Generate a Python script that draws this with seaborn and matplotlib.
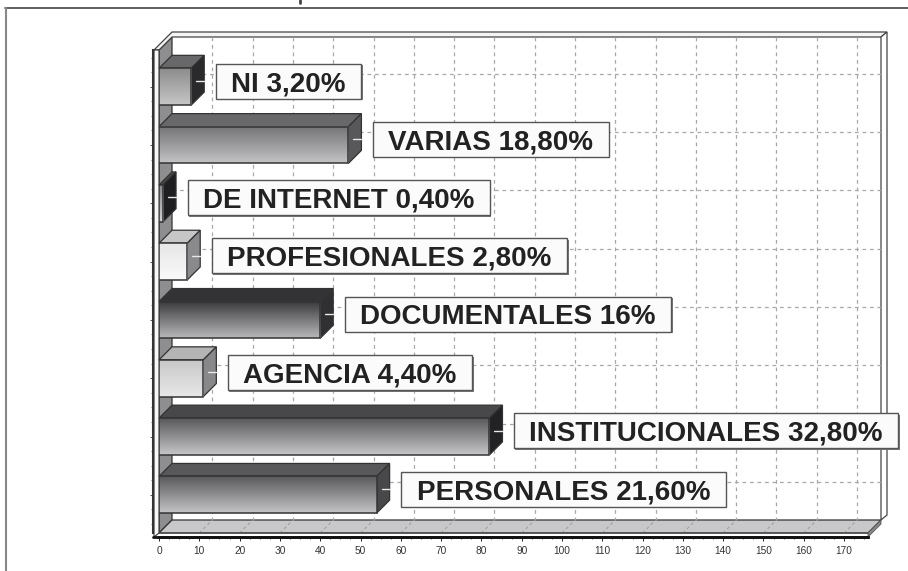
import numpy as np
import pandas as pd
import matplotlib
matplotlib.use('Agg')
import matplotlib.pyplot as plt
import seaborn as sns
from matplotlib.colors import LinearSegmentedColormap
from matplotlib.lines import Line2D
from matplotlib.patches import Polygon
from matplotlib.ticker import MultipleLocator
from matplotlib.transforms import IdentityTransform

# datos (de arriba a abajo)
categorias = ['NI', 'VARIAS', 'DE INTERNET', 'PROFESIONALES', 'DOCUMENTALES',
              'AGENCIA', 'INSTITUCIONALES', 'PERSONALES']
valores = [8, 47, 1, 7, 40, 11, 82, 54]
porcentajes = ['3,20%', '18,80%', '0,40%', '2,80%', '16%', '4,40%', '32,80%', '21,60%']
ticks_x = list(range(0, 171, 10))

# colores de cada barra: degradado arriba, degradado abajo, cara superior, cara lateral
grad_arriba = ['#8c8c8c', '#747476', '#8a8a8a', '#e6e6e6', '#3a3a3c', '#c8c8c8', '#59595b', '#59595b']
grad_abajo = ['#c6c6c6', '#c2c2c4', '#d0d0d0', '#fafafa', '#b8b8ba', '#e8e8e8', '#c6c6c8', '#c4c4c6']
cara_sup = ['#68686a', '#68686a', '#4a4a4c', '#c6c6c6', '#333335', '#b4b4b4', '#48484a', '#58585a']
cara_lat = ['#2a2a2c', '#58585a', '#1f1f21', '#8a8a8c', '#303032', '#88888a', '#222224', '#48484a']

W, H = 908, 571
DX, DY = 13, 13  # profundidad del efecto 3D en pixeles
X0, X1, Y_TOP, Y_BOT = 159, 868, 50, 533
ESCALA = 4.03  # pixeles por unidad

sns.set_theme(style='ticks')
plt.rcParams['font.family'] = ['Liberation Sans', 'DejaVu Sans']

fig = plt.figure(figsize=(W / 100, H / 100), dpi=100, facecolor='white')
ax = fig.add_axes([X0 / W, 1 - Y_BOT / H, (X1 - X0) / W, (Y_BOT - Y_TOP) / H])
ax.patch.set_alpha(0)
ax.set_zorder(4.5)  # por encima de paredes y caras 3D, debajo de las etiquetas

df = pd.DataFrame({'categoria': categorias, 'valor': valores})
sns.barplot(data=df, x='valor', y='categoria', orient='h', width=0.63, color='white',
            edgecolor='#333333', linewidth=1.1, ax=ax, zorder=6)

ax.set_xlim(0, (X1 - X0) / ESCALA)
sep = 58.3
ax.set_ylim((Y_BOT - 86.7) / sep, (Y_TOP - 86.7) / sep)
ax.set_xlabel('')
ax.set_ylabel('')
ax.set_yticklabels([])
ax.set_xticks(ticks_x)
ax.xaxis.set_minor_locator(MultipleLocator(2.5))
ax.yaxis.set_minor_locator(MultipleLocator(0.25))
ax.tick_params(axis='x', which='major', length=3, width=0.7, color='#222222', labelsize=7.3,
               labelcolor='#333333', pad=3)
ax.tick_params(axis='x', which='minor', length=1.5, width=0.6, color='#444444')
ax.tick_params(axis='y', which='major', length=2.5, width=0.7, color='#555555')
ax.tick_params(axis='y', which='minor', length=1.2, width=0.6, color='#666666')
sns.despine(ax=ax, top=True, right=True)
ax.spines['bottom'].set_position(('outward', 3))
ax.spines['bottom'].set_linewidth(2)
ax.spines['bottom'].set_color('#111111')
ax.spines['left'].set_position(('outward', 4))
ax.spines['left'].set_linewidth(1.5)
ax.spines['left'].set_color('#333333')


def a_pix(x, y):
    return ax.transData.transform((x, y))


def y_img(y):
    return H - y


def poly(puntos, color, edge='#333333', lw=0.9, z=1):
    # puntos en pixeles de la imagen (y hacia abajo)
    p = [(x, y_img(y)) for x, y in puntos]
    fig.add_artist(Polygon(p, closed=True, facecolor=color, edgecolor=edge, linewidth=lw,
                           transform=IdentityTransform(), zorder=z))


def linea(xs, ys, color='#333333', lw=1.0, ls='-', z=2):
    fig.add_artist(Line2D(xs, [y_img(y) for y in ys], color=color, linewidth=lw, linestyle=ls,
                          transform=IdentityTransform(), zorder=z))


# paredes del fondo, suelo y marco
poly([(X0, Y_TOP), (X0 + DX, Y_TOP - DY), (X0 + DX, Y_BOT - DY), (X0, Y_BOT)], '#8e8e90', z=1)
poly([(X0 + DX, Y_BOT - DY), (X1 + DX, Y_BOT - DY), (X1, Y_BOT), (X0, Y_BOT)], '#c8c8ca', z=1)
poly([(X0 - 5, Y_TOP), (X0 + DX, Y_TOP - 18), (X1 + 19, Y_TOP - 18), (X1 + DX, Y_TOP - DY),
      (X0 + DX, Y_TOP - DY), (X0, Y_TOP)], '#f4f4f4', edge='#444444', z=1)
poly([(X1 + DX, Y_TOP - DY), (X1 + 19, Y_TOP - 18), (X1 + 19, Y_BOT - DY - 5), (X1 + DX, Y_BOT - DY)],
     '#ffffff', edge='#444444', z=1)
poly([(X1, Y_BOT), (X1 + DX, Y_BOT - DY), (X1 + DX, Y_BOT - DY + 4), (X1, Y_BOT + 4)], '#8a8a8a',
     edge='#555555', lw=0.6, z=2)
poly([(X0 - 5, Y_TOP), (X0, Y_TOP), (X0, Y_BOT), (X0 - 5, Y_BOT + 4)], '#f8f8f8', edge='#333333', lw=0.8, z=2)
linea([X0 - 6, X1], [Y_BOT + 3.5, Y_BOT + 3.5], color='#111111', lw=2.0, z=3)
linea([X0, X1], [Y_BOT, Y_BOT], color='#555555', lw=1.2, z=3)

# rejilla sobre la pared del fondo
for t in ticks_x[1:]:
    px = a_pix(t, 0)[0]
    linea([px + DX, px + DX], [Y_TOP - DY, Y_BOT - DY], color='#a8a8a8', lw=0.9, ls=(0, (3, 3)))
    linea([px, px + DX], [Y_BOT, Y_BOT - DY], color='#9a9a9a', lw=0.7, ls=(0, (3, 3)))
for i in range(len(categorias)):
    py = H - a_pix(0, i)[1]
    linea([X0 + DX, X1 + DX], [py - DY, py - DY], color='#a8a8a8', lw=0.9, ls=(0, (3, 3)))

# barras: degradado y caras 3D
for i, barra in enumerate(ax.patches[:len(categorias)]):
    x0, y0 = barra.get_x(), barra.get_y()
    x1, y1 = x0 + barra.get_width(), y0 + barra.get_height()
    barra.set_facecolor('none')
    cmap = LinearSegmentedColormap.from_list('g', [grad_arriba[i], grad_abajo[i]])
    ax.imshow(np.linspace(0, 1, 64).reshape(-1, 1), cmap=cmap, extent=[x0, x1, y1, y0],
              aspect='auto', zorder=5, interpolation='bilinear')

    px0, py_a = a_pix(x0, y0)
    px1, py_b = a_pix(x1, y1)
    py_a, py_b = H - py_a, H - py_b
    poly([(px0, py_a), (px0 + DX, py_a - DY), (px1 + DX, py_a - DY), (px1, py_a)], cara_sup[i], z=4)
    poly([(px1, py_a), (px1 + DX, py_a - DY), (px1 + DX, py_b - DY), (px1, py_b)], cara_lat[i], z=4)
    yc = (py_a + py_b) / 2 - 6
    linea([px1 + 5, px1 + DX], [yc, yc], color='#e8e8e8', lw=1.0, z=5)

# imshow cambia los limites
ax.set_xlim(0, (X1 - X0) / ESCALA)
ax.set_ylim((Y_BOT - 86.7) / sep, (Y_TOP - 86.7) / sep)

# etiquetas con caja
rend = fig.canvas.get_renderer()
for i, barra in enumerate(ax.patches[:len(categorias)]):
    px1 = a_pix(barra.get_x() + barra.get_width(), 0)[0]
    yc = H - a_pix(0, i)[1] - 5.7
    caja_x = px1 + 24.5
    t = fig.text((caja_x + 15.5) / W, 1 - yc / H, f'{categorias[i]} {porcentajes[i]}', fontsize=20,
                 fontweight='bold', color='#222222', ha='left', va='center_baseline', zorder=12)
    ancho = t.get_window_extent(rend).width
    poly([(caja_x + 1.5, yc - 16), (caja_x + ancho + 32.5, yc - 16), (caja_x + ancho + 32.5, yc + 19),
          (caja_x + 1.5, yc + 19)], '#777777', edge='none', lw=0, z=10)
    poly([(caja_x, yc - 17.5), (caja_x + ancho + 31, yc - 17.5), (caja_x + ancho + 31, yc + 17.5),
          (caja_x, yc + 17.5)], '#fbfbfb', edge='#555555', lw=1.0, z=11)

# marco exterior de la figura
linea([5, W], [8, 8], color='#444444', lw=1.2, z=1)
linea([5.5, 5.5], [8, H], color='#888888', lw=1.5, z=1)
linea([299.5, 299.5], [0, 2.5], color='#444444', lw=2, z=1)

fig.savefig('out.png', dpi=100, facecolor='white')
